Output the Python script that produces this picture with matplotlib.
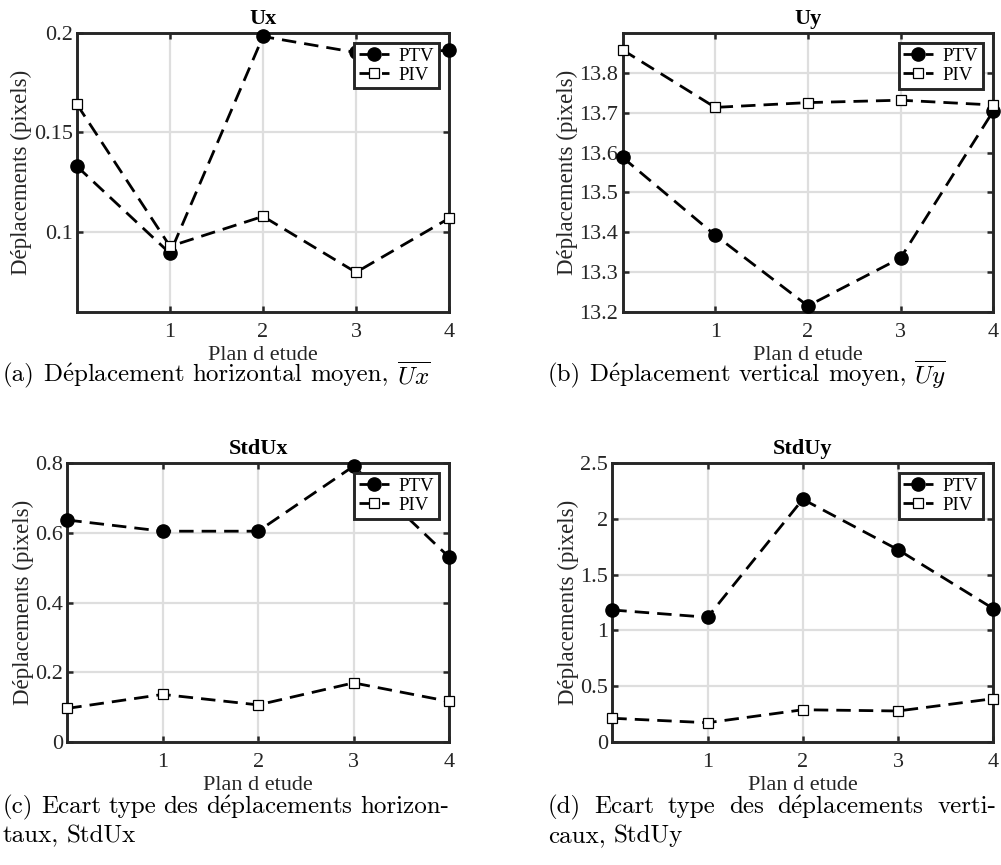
import numpy as np
import matplotlib
matplotlib.use("Agg")
import matplotlib.pyplot as plt

plt.rcParams["mathtext.fontset"] = "cm"

SERIF = ["Liberation Serif", "DejaVu Serif"]
CAPTION_FONT = "cmr10"

# Plan d'etude (x) et valeurs
plans = [0, 1, 2, 3, 4]

ux_ptv = [0.133, 0.0895, 0.198, 0.190, 0.191]
ux_piv = [0.164, 0.093, 0.108, 0.080, 0.107]

uy_ptv = [13.588, 13.393, 13.216, 13.336, 13.704]
uy_piv = [13.857, 13.713, 13.725, 13.731, 13.719]

stdux_ptv = [0.636, 0.604, 0.604, 0.790, 0.530]
stdux_piv = [0.097, 0.137, 0.107, 0.170, 0.117]

stduy_ptv = [1.183, 1.118, 2.173, 1.722, 1.195]
stduy_piv = [0.215, 0.175, 0.291, 0.280, 0.390]

titles = ["Ux", "Uy", "StdUx", "StdUy"]
ylims = [(0.06, 0.2), (13.2, 13.9), (0, 0.8), (0, 2.5)]
yticks = [[0.1, 0.15, 0.2],
          [13.2, 13.3, 13.4, 13.5, 13.6, 13.7, 13.8],
          [0, 0.2, 0.4, 0.6, 0.8],
          [0, 0.5, 1, 1.5, 2, 2.5]]
ytick_labels = [["0.1", "0.15", "0.2"],
                ["13.2", "13.3", "13.4", "13.5", "13.6", "13.7", "13.8"],
                ["0", "0.2", "0.4", "0.6", "0.8"],
                ["0", "0.5", "1", "1.5", "2", "2.5"]]
xticks = [1, 2, 3, 4]

series = [(ux_ptv, ux_piv), (uy_ptv, uy_piv),
          (stdux_ptv, stdux_piv), (stduy_ptv, stduy_piv)]

E = r"$\acute{\mathrm{e}}$"
captions = [
    [["(a)", "D" + E + "placement", "horizontal", "moyen,", r"$\overline{Ux}$"]],
    [["(b)", "D" + E + "placement", "vertical", "moyen,", r"$\overline{Uy}$"]],
    [["(c)", "Ecart", "type", "des", "d" + E + "placements", "horizon-"],
     ["taux,", "StdUx"]],
    [["(d)", "Ecart", "type", "des", "d" + E + "placements", "verti-"],
     ["caux,", "StdUy"]],
]

W, H = 1001, 865
# axes boxes in pixels: left, top, right, bottom
boxes = [(77, 32.5, 449, 312.3),
         (622.5, 32.7, 993.3, 312.3),
         (67.3, 462.7, 449, 742.3),
         (612.3, 462.7, 993.3, 742.3)]

SPINE = "#262626"
GRID = "#dedede"
DASH = (0, (5.2, 2.9))

fig = plt.figure(figsize=(W / 100, H / 100), dpi=100)

for i in range(4):
    l, t, r, b = boxes[i]
    ax = fig.add_axes([l / W, 1 - b / H, (r - l) / W, (b - t) / H])
    ptv, piv = series[i]

    ax.plot(plans, ptv, color="black", linewidth=2.0, linestyle=DASH,
            marker="o", markersize=9.5, markerfacecolor="black",
            markeredgecolor="black", label="PTV", zorder=3, clip_on=False)
    ax.plot(plans, piv, color="black", linewidth=2.0, linestyle=DASH,
            marker="s", markersize=7.5, markerfacecolor="white",
            markeredgecolor="black", markeredgewidth=0.9, label="PIV",
            zorder=3, clip_on=False)

    ax.set_xlim(0, 4)
    ax.set_ylim(*ylims[i])
    ax.set_xticks(xticks)
    ax.set_xticklabels([str(x) for x in xticks], family=SERIF, fontsize=16)
    ax.set_yticks(yticks[i])
    ax.set_yticklabels(ytick_labels[i], family=SERIF, fontsize=16)
    ax.tick_params(direction="in", length=4, width=1.8, color=SPINE,
                   top=True, right=True, labelcolor="#262626")
    ax.tick_params(axis="x", pad=7.5)
    ax.tick_params(axis="y", pad=3)
    ax.grid(True, color=GRID, linewidth=1.6, zorder=0)
    ax.set_axisbelow(True)
    for s in ax.spines.values():
        s.set_linewidth(2.1)
        s.set_color(SPINE)

    ax.set_title(titles[i], family=SERIF, fontsize=16, fontweight="bold", pad=6)
    ax.set_xlabel("Plan d etude", family=SERIF, fontsize=16, color="#262626",
                  labelpad=3)
    ax.set_ylabel("Déplacements (pixels)", family=SERIF, fontsize=16.5,
                  color="#262626", labelpad=1)

    leg = ax.legend(loc="upper right", prop={"family": SERIF, "size": 13.5},
                    fancybox=False, framealpha=1, edgecolor=SPINE,
                    handlelength=1.6, handletextpad=0.5, borderpad=0.25,
                    labelspacing=0.1, borderaxespad=0.55)
    leg.get_frame().set_linewidth(2.1)
    leg.set_zorder(5)

# captions (justified like the LaTeX subcaptions)
renderer = fig.canvas.get_renderer()


def caption_line(words, x0, x1, y, justify):
    texts = [fig.text(0, 1 - y / H, w, family=CAPTION_FONT, fontsize=18,
                      va="center", ha="left") for w in words]
    widths = [t.get_window_extent(renderer).width for t in texts]
    if justify and len(words) > 1:
        gap = (x1 - x0 - sum(widths)) / (len(words) - 1)
    else:
        gap = 8
    x = x0
    for t, w in zip(texts, widths):
        t.set_x(x / W)
        x += w + gap


col_x = [(3, 449), (548, 996)]
caption_y = [375, 375, 807, 836]
caption_line(captions[0][0], *col_x[0], caption_y[0], False)
caption_line(captions[1][0], *col_x[1], caption_y[1], False)
caption_line(captions[2][0], *col_x[0], caption_y[2], True)
caption_line(captions[2][1], *col_x[0], caption_y[3], False)
caption_line(captions[3][0], *col_x[1], caption_y[2], True)
caption_line(captions[3][1], *col_x[1], caption_y[3], False)

fig.savefig("out.png", dpi=100)
